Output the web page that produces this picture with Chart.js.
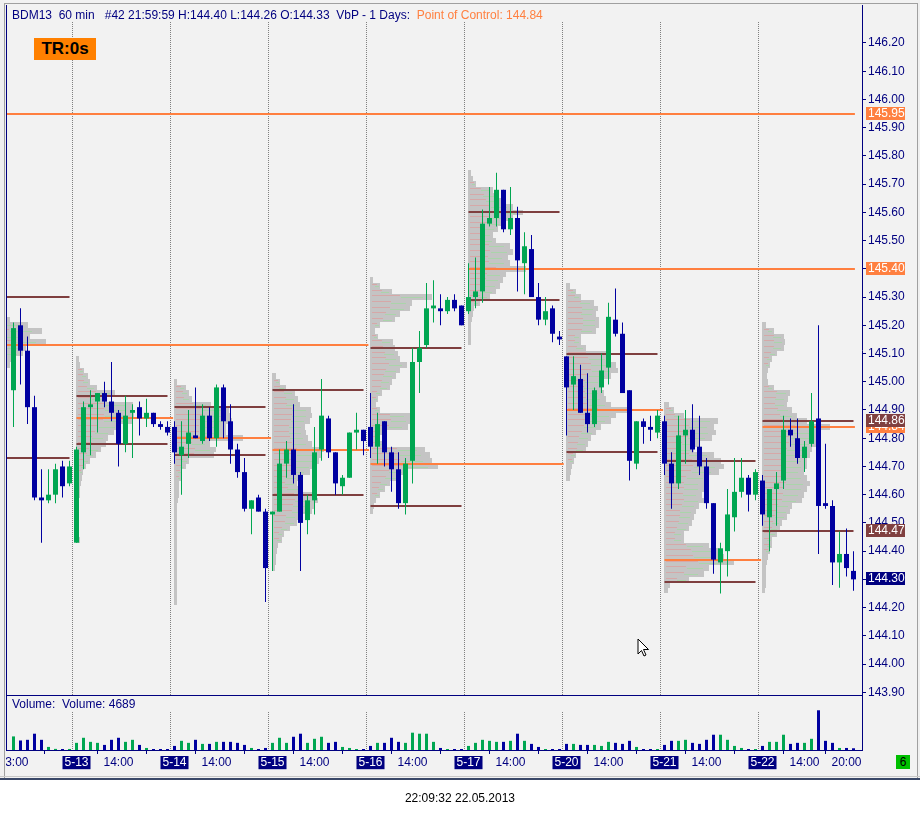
<!DOCTYPE html>
<html>
<head>
<meta charset="utf-8">
<script src="https://cdn.jsdelivr.net/npm/chart.js@4.4.1/dist/chart.umd.min.js"></script>
<style>
  html, body { margin: 0; padding: 0; background: #fff; }
  #wrap { position: relative; width: 920px; height: 815px; overflow: hidden; background: #fff;
          font-family: "Liberation Sans", Arial, sans-serif; }
  #panel { position: absolute; left: 0; top: 0; width: 920px; height: 778px; background: #F2F2F2; }
  canvas { position: absolute; left: 0; }
  .abs { position: absolute; white-space: pre; }
</style>
</head>
<body>
<div id="wrap">
  <div id="panel"></div>
  <canvas id="price" width="920" height="696" style="top:0"></canvas>
  <canvas id="vol" width="920" height="84" style="top:696px"></canvas>

  <!-- frame -->
  <div class="abs" style="left:0;top:0;width:4px;height:778px;background:#F0F0F0"></div>
  <div class="abs" style="left:4px;top:3px;width:1px;height:775px;background:#A0A0A0"></div>
  <div class="abs" style="left:4px;top:3px;width:914px;height:1px;background:#A0A0A0"></div>
  <div class="abs" style="left:5px;top:4px;width:1px;height:774px;background:#F0F0F0"></div>
  <div class="abs" style="left:6px;top:5px;width:1px;height:746px;background:#000080"></div>
  <div class="abs" style="left:917px;top:3px;width:1px;height:775px;background:#A0A0A0"></div>
  <div class="abs" style="left:918px;top:0;width:2px;height:778px;background:#F0F0F0"></div>
  <div class="abs" style="left:0;top:776px;width:920px;height:1px;background:#C8C8C8"></div>
  <div class="abs" style="left:0;top:778px;width:920px;height:2px;background:#3A4868"></div>

  <div class="abs" style="left:12px;top:7px;font-size:12px;line-height:16px;color:#000080">BDM13  60 min   #42 21:59:59 H:144.40 L:144.26 O:144.33  VbP - 1 Days:  <span style="color:#FF8040">Point of Control: 144.84</span></div>
  <div class="abs" style="left:34px;top:38px;width:62px;height:22px;background:#FF8000;color:#000;font-weight:bold;font-size:17px;line-height:22px;text-align:center">TR:0s</div>
  <div class="abs" style="left:12px;top:697px;font-size:12px;line-height:15px;color:#000080">Volume:  Volume: 4689</div>
  <div class="abs" style="left:896px;top:755px;width:14px;height:14px;background:#00C000;color:#000;font-size:12px;line-height:14px;text-align:center">6</div>
  <div class="abs" style="left:0;top:790px;width:920px;font-size:12px;line-height:16px;color:#000;text-align:center">22:09:32 22.05.2013</div>
</div>

<script>
// hourly candles, 5-10 13:00 ... 5-22 21:00
const opens = [
  144.97,145.20,145.11,144.91,144.59,144.58,144.60,144.70,144.64,
  144.43,144.75,144.91,144.93,144.96,144.93,144.89,144.78,144.89,144.91,144.87,144.89,144.85,144.84,
  144.84,144.74,144.78,144.81,144.79,144.88,144.80,144.98,144.86,144.76,144.68,144.55,144.59,144.54,
  144.53,144.54,144.71,144.76,144.67,144.51,144.58,144.76,144.87,144.75,144.63,144.66,144.82,144.83,
  144.84,144.77,144.86,144.75,144.69,144.57,144.72,145.07,145.13,145.26,145.26,145.25,145.29,145.27,
  145.25,145.30,145.32,145.56,145.58,145.68,145.54,145.58,145.42,145.47,145.30,145.22,145.26,145.16,
  145.09,144.99,145.01,144.89,144.85,144.98,145.05,145.22,145.17,144.97,144.71,144.86,144.84,144.82,
  144.86,144.71,144.64,144.81,144.83,144.77,144.70,144.57,144.36,144.40,144.52,144.61,144.66,144.60,
  144.65,144.52,144.62,144.65,144.83,144.80,144.73,144.78,144.87,144.57,144.56,144.36,144.39,144.33];
const highs = [
  145.21,145.26,145.16,144.95,144.69,144.69,144.71,144.72,144.72,
  144.77,144.93,144.97,144.96,145.00,145.07,144.90,144.95,144.92,144.93,144.94,144.89,144.86,144.86,
  144.86,144.86,144.90,144.98,144.92,144.91,144.99,144.99,144.92,144.78,144.73,144.58,144.60,144.55,
  144.54,144.76,144.79,144.92,144.68,144.60,144.84,145.01,144.88,144.75,144.67,144.82,144.89,144.83,
  144.96,144.89,144.86,144.77,144.75,144.73,145.12,145.18,145.35,145.36,145.31,145.30,145.31,145.27,
  145.42,145.44,145.61,145.69,145.74,145.68,145.69,145.62,145.53,145.52,145.35,145.30,145.27,145.18,
  145.09,145.09,145.06,145.03,144.98,145.10,145.28,145.33,145.21,144.97,144.86,144.87,144.88,144.90,
  144.88,144.75,144.88,144.90,144.92,144.88,144.73,144.57,144.43,144.62,144.73,144.73,144.67,144.69,
  144.67,144.62,144.68,144.88,144.87,144.87,144.79,144.96,145.20,144.78,144.58,144.47,144.48,144.40];
const lows = [
  144.84,144.99,144.85,144.58,144.43,144.57,144.57,144.59,144.63,
  144.43,144.69,144.74,144.82,144.91,144.86,144.70,144.75,144.73,144.81,144.84,144.84,144.83,144.81,
  144.71,144.60,144.73,144.80,144.78,144.79,144.77,144.80,144.71,144.66,144.54,144.46,144.54,144.22,
  144.33,144.54,144.66,144.64,144.33,144.46,144.53,144.72,144.73,144.60,144.60,144.66,144.76,144.74,
  144.73,144.71,144.70,144.61,144.55,144.53,144.64,144.96,145.12,145.21,145.20,145.24,145.25,145.20,
  145.24,145.26,145.28,145.55,145.55,145.53,145.52,145.32,145.31,145.30,145.20,145.20,145.14,145.13,
  144.81,144.90,144.89,144.82,144.84,144.96,144.99,145.16,144.96,144.65,144.69,144.78,144.79,144.80,
  144.67,144.55,144.62,144.71,144.75,144.67,144.55,144.32,144.25,144.31,144.47,144.59,144.54,144.58,
  144.49,144.40,144.49,144.62,144.77,144.71,144.68,144.77,144.39,144.55,144.28,144.27,144.31,144.26];
const closes = [
  145.19,145.11,144.91,144.59,144.58,144.60,144.69,144.63,144.70,
  144.76,144.91,144.92,144.96,144.93,144.89,144.78,144.88,144.90,144.87,144.89,144.85,144.84,144.82,
  144.75,144.77,144.82,144.80,144.88,144.80,144.98,144.86,144.76,144.68,144.55,144.58,144.54,144.34,
  144.54,144.71,144.76,144.67,144.50,144.58,144.75,144.88,144.75,144.64,144.66,144.82,144.83,144.79,
  144.77,144.85,144.75,144.69,144.57,144.71,145.07,145.12,145.26,145.27,145.25,145.29,145.26,145.20,
  145.30,145.32,145.56,145.58,145.68,145.54,145.58,145.43,145.48,145.30,145.22,145.25,145.17,145.15,
  144.98,145.02,144.89,144.85,144.97,145.04,145.23,145.17,144.96,144.72,144.86,144.84,144.83,144.88,
  144.71,144.64,144.81,144.83,144.76,144.70,144.57,144.37,144.41,144.53,144.61,144.66,144.60,144.68,
  144.53,144.62,144.64,144.83,144.81,144.73,144.77,144.86,144.56,144.56,144.36,144.39,144.34,144.30];
const volumes = [
  36700,25700,27500,44000,27500,8300,3000,2600,2800,
  19300,33000,22000,19300,13750,27500,33000,22000,27500,13750,5500,2750,2750,2750,
  11000,24750,19300,27500,16500,16500,22000,22000,22000,19300,13750,5500,2750,5500,
  19300,33000,19300,35750,44000,19300,30250,35750,19300,22000,8250,5500,2750,2750,
  11000,19300,19300,33000,22000,19300,46750,44000,44000,22000,5500,2750,2750,2750,
  11000,19300,27500,24750,22000,22000,24750,44000,24750,16500,8250,2750,2750,2750,
  16500,16500,13750,13750,13750,11000,22000,19300,16500,24750,8250,2750,2750,2750,
  13750,24750,24750,27500,19300,16500,27500,41250,41250,27500,11000,5500,2750,2750,
  11000,22000,22000,41250,16500,19300,19300,30250,107250,24750,19300,5500,5500,4689];

// x axis labels (bar index -> text)
const tickIndex = [0, 9, 15, 23, 29, 37, 43, 51, 57, 65, 71, 79, 85, 93, 99, 107, 113, 119];
const tickText = ['13:00','5-13','14:00','5-14','14:00','5-15','14:00','5-16','14:00',
                  '5-17','14:00','5-20','14:00','5-21','14:00','5-22','14:00','20:00'];
const priceTicks = [143.9,144.0,144.1,144.2,144.3,144.4,144.5,144.6,144.7,144.8,144.9,145.0,
                    145.1,145.2,145.3,145.4,145.5,145.6,145.7,145.8,145.9,146.0,146.1,146.2];

// volume-by-price, one profile per day, rows every 0.02 from the top price down
const dayStart = [-5, 9, 23, 37, 51, 65, 79, 93, 107];
const profileTop = [145.22, 145.08, 145.00, 145.02, 145.36, 145.74, 145.34, 144.92, 145.20];
const profile0 = [32,50,64,52,68,48,45,34,32];
const profile1 = [3,4,8,12,14,21,39,31,57,57,58,56,45,38,32,30,25,20,14,10,7,6,5,4,4,3,3,3,3,3,3,3,4];
const profile2 = [3,12,15,18,37,55,57,58,52,52,69,36,42,40,15,12,8,7,5,5,5,4,3,3,3,3,3,3,3,3,3,3,3,3,3,3,3,3,3,3];
const profile3 = [4,8,14,23,26,28,39,40,38,33,34,36,40,52,49,47,44,38,28,25,30,44,46,42,40,27,25,18,12,10,6,5,4,4,3];
const profile4 = [3,10,22,62,42,40,30,25,10,5,8,23,25,28,30,37,30,26,22,20,12,8,6,10,40,42,38,12,10,15,55,60,62,68,38,30,20,15,10,6,4,3];
const profile5 = [3,5,8,25,30,35,45,55,45,38,30,25,28,42,45,40,42,58,38,35,32,28,22,12,6,5,4,3,3,3,3];
const profile6 = [4,10,15,28,32,30,33,33,30,15,15,20,40,45,50,52,45,38,35,38,40,45,66,50,45,35,30,25,22,20,10,8,6,5,4];
const profile7 = [5,10,20,54,50,52,48,35,30,50,57,60,55,45,40,40,38,40,35,32,30,28,25,20,20,45,55,60,70,45,40,25,6,4];
const profile8 = [4,12,22,23,22,15,10,8,6,5,6,12,28,26,25,30,35,45,68,58,55,55,50,48,45,45,42,45,48,45,42,40,30,28,25,20,18,15,10,10,8,6,5,4,4,4,4,3];
const profiles = [profile0, profile1, profile2, profile3, profile4, profile5, profile6, profile7, profile8];

// value area high / low per day, and points of control
const vaHigh = [145.30, 144.95, 144.91, 144.97, 145.12, 145.60, 145.10, 144.72, 144.86];
const vaLow  = [144.73, 144.78, 144.74, 144.60, 144.56, 145.29, 144.75, 144.29, 144.47];
const pocPrice = [145.95, 145.13, 144.87, 144.80, 144.76, 144.71, 145.40, 144.90, 144.37, 144.84];
const pocFrom  = [-5, -5, 9, 23, 37, 51, 65, 79, 93, 107];
const pocTo    = [120.2, 50.7, 22.8, 36.8, 50.8, 78.6, 120.2, 92.8, 106.8, 120.2];

// price tags on the right axis
const tagPrice = [145.95, 145.40, 144.84, 144.86, 144.47, 144.30];
const tagKind  = ['poc', 'poc', 'poc', 'va', 'va', 'last'];

const NAVY = '#000080', UP = '#00A651', DOWN = '#0000A0';
const ORANGE = '#FF7F3F', BROWN = '#7F3F3F';
const X_MIN = -0.92857, X_MAX = 121.2143;
const Y_MAX = 146.3346, Y_MIN = 143.8904;
const PROFILE_STEP = 0.02, UNITS_PER_BAR = 7;
const VOL_MAX = 143100;

Chart.defaults.font.family = '"Liberation Sans", Arial, sans-serif';
Chart.defaults.font.size = 12;

const idx = opens.map((_, i) => i);
const colors = idx.map(i => closes[i] > opens[i] ? UP : DOWN);

const noOverflow = axis => {
  axis.paddingTop = 0; axis.paddingBottom = 0;
  axis.paddingLeft = 0; axis.paddingRight = 0;
};

const priceDecor = {
  id: 'priceDecor',
  beforeDatasetsDraw(chart) {
    const { ctx, chartArea: a, scales: { x, y } } = chart;
    ctx.save();
    ctx.beginPath();
    ctx.rect(a.left, a.top, a.right - a.left, a.bottom - a.top);
    ctx.clip();

    // day separators
    ctx.strokeStyle = '#808080';
    ctx.lineWidth = 1;
    ctx.setLineDash([1, 1]);
    dayStart.slice(1).forEach(s => {
      const px = Math.floor(x.getPixelForValue(s - 0.5)) + 0.5;
      ctx.beginPath();
      ctx.moveTo(px, 22);
      ctx.lineTo(px, a.bottom);
      ctx.stroke();
    });
    ctx.setLineDash([]);

    // profiles
    profiles.forEach((rows, d) => {
      const x0 = Math.floor(x.getPixelForValue(dayStart[d]));
      rows.forEach((v, r) => {
        const p = profileTop[d] - r * PROFILE_STEP;
        const y1 = Math.round(y.getPixelForValue(p + PROFILE_STEP / 2));
        const y2 = Math.round(y.getPixelForValue(p - PROFILE_STEP / 2));
        const x1 = Math.round(x.getPixelForValue(dayStart[d] + v / UNITS_PER_BAR));
        const w = x1 - x0;
        ctx.fillStyle = '#C4C4C4';
        ctx.fillRect(x0, y1, w, y2 - y1);
        if (w > 6) {
          ctx.fillStyle = '#D6A8A8';
          ctx.fillRect(x0 + 2, y1 + 1, Math.round(w * 0.45), 1);
          ctx.fillStyle = '#AAD4AA';
          ctx.fillRect(x0 + Math.round(w * 0.5), y1 + 3, Math.round(w * 0.35), 1);
        }
      });
    });

    // value area and POC lines
    const hline = (p, from, to, color) => {
      const py = Math.round(y.getPixelForValue(p));
      const xa = x.getPixelForValue(from), xb = x.getPixelForValue(to);
      ctx.fillStyle = color;
      ctx.fillRect(xa, py - 1, xb - xa, 2);
    };
    vaHigh.forEach((p, d) => hline(p, dayStart[d], dayStart[d] + 13, BROWN));
    vaLow.forEach((p, d) => hline(p, dayStart[d], dayStart[d] + 13, BROWN));
    pocPrice.forEach((p, k) => hline(p, pocFrom[k], pocTo[k], ORANGE));
    ctx.restore();
  },
  afterDraw(chart) {
    const { ctx, chartArea: a, scales: { y } } = chart;
    ctx.save();
    // panel bottom line
    ctx.fillStyle = NAVY;
    ctx.fillRect(6, a.bottom, a.right - 6 + 1, 1);

    // price tags
    ctx.font = '12px "Liberation Sans", Arial, sans-serif';
    ctx.textBaseline = 'middle';
    ctx.textAlign = 'left';
    tagPrice.forEach((p, k) => {
      const py = Math.round(y.getPixelForValue(p));
      ctx.fillStyle = tagKind[k] === 'poc' ? '#FF8040' : tagKind[k] === 'va' ? '#804040' : NAVY;
      ctx.fillRect(866, py - 7, 39, 13);
      ctx.fillStyle = '#FFFFFF';
      ctx.fillText(p.toFixed(2), 868, py);
    });

    // mouse pointer left in the screenshot
    ctx.translate(638, 639);
    ctx.beginPath();
    ctx.moveTo(0, 0); ctx.lineTo(0, 15); ctx.lineTo(3.5, 11.5); ctx.lineTo(6, 17);
    ctx.lineTo(8, 16); ctx.lineTo(5.5, 10.5); ctx.lineTo(10.5, 10.5); ctx.closePath();
    ctx.fillStyle = '#FFFFFF'; ctx.fill();
    ctx.strokeStyle = '#000000'; ctx.lineWidth = 1; ctx.stroke();
    ctx.restore();
  }
};

new Chart(document.getElementById('price'), {
  type: 'bar',
  data: {
    datasets: [
      { label: 'wick', data: idx.map(i => ({ x: i, y: [lows[i], highs[i]] })),
        backgroundColor: colors, barThickness: 1, grouped: false, inflateAmount: 0, order: 2 },
      { label: 'body', data: idx.map(i => ({ x: i, y: [opens[i], closes[i]] })),
        backgroundColor: colors, barThickness: 5, minBarLength: 1, grouped: false, inflateAmount: 0, order: 1 }
    ]
  },
  options: {
    responsive: false, animation: false, devicePixelRatio: 1,
    layout: { padding: { left: 7, top: 5, right: 0, bottom: 1 } },
    plugins: { legend: { display: false }, tooltip: { enabled: false } },
    scales: {
      x: { type: 'linear', min: X_MIN, max: X_MAX, offset: false, display: false },
      y: {
        position: 'right', min: Y_MIN, max: Y_MAX,
        afterBuildTicks: axis => { axis.ticks = priceTicks.map(v => ({ value: v })); },
        afterFit: axis => { axis.width = 58; noOverflow(axis); },
        ticks: { color: NAVY, padding: 2, autoSkip: false, callback: v => v.toFixed(2) },
        grid: { drawOnChartArea: false, tickLength: 4, color: NAVY },
        border: { color: NAVY }
      }
    }
  },
  plugins: [priceDecor]
});

const volDecor = {
  id: 'volDecor',
  beforeDatasetsDraw(chart) {
    const { ctx, chartArea: a, scales: { x } } = chart;
    ctx.save();
    ctx.strokeStyle = '#808080';
    ctx.lineWidth = 1;
    ctx.setLineDash([1, 1]);
    dayStart.slice(1).forEach(s => {
      const px = Math.floor(x.getPixelForValue(s - 0.5)) + 0.5;
      ctx.beginPath();
      ctx.moveTo(px, 16);
      ctx.lineTo(px, a.bottom);
      ctx.stroke();
    });
    ctx.restore();
  },
  afterDraw(chart) {
    const { ctx, chartArea: a } = chart;
    ctx.fillStyle = NAVY;
    ctx.fillRect(a.right, 0, 1, a.bottom + 1);
  }
};

new Chart(document.getElementById('vol'), {
  type: 'bar',
  data: {
    datasets: [{ label: 'Volume', data: idx.map(i => ({ x: i, y: volumes[i] })),
      backgroundColor: colors, barThickness: 3, minBarLength: 1, inflateAmount: 0 }]
  },
  options: {
    responsive: false, animation: false, devicePixelRatio: 1,
    layout: { padding: { left: 7, top: 1, right: 58, bottom: 0 } },
    plugins: { legend: { display: false }, tooltip: { enabled: false } },
    scales: {
      x: {
        type: 'linear', min: X_MIN, max: X_MAX, offset: false,
        afterBuildTicks: axis => { axis.ticks = tickIndex.map(v => ({ value: v })); },
        afterFit: axis => { axis.height = 30; noOverflow(axis); },
        ticks: {
          autoSkip: false, maxRotation: 0, minRotation: 0, padding: 2,
          font: { size: 12, lineHeight: 1.1 },
          callback: (v, i) => tickText[i],
          color: c => tickText[c.index].indexOf('-') > 0 ? '#FFFFFF' : NAVY,
          showLabelBackdrop: c => tickText[c.index].indexOf('-') > 0,
          backdropColor: NAVY,
          backdropPadding: { top: 0, bottom: 0, left: 2, right: 2 }
        },
        grid: { drawOnChartArea: false, tickLength: 4, color: NAVY },
        border: { color: NAVY }
      },
      y: { display: false, min: 0, max: VOL_MAX }
    }
  },
  plugins: [volDecor]
});
</script>
</body>
</html>
